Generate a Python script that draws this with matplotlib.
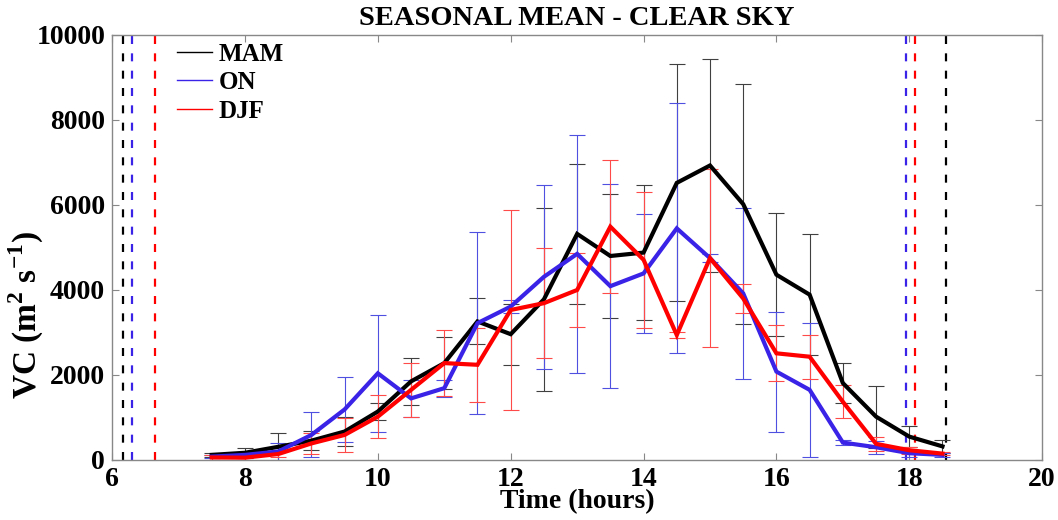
import matplotlib
matplotlib.use("Agg")
import matplotlib.pyplot as plt
from matplotlib.lines import Line2D

plt.rcParams['font.family'] = ['Liberation Serif', 'DejaVu Serif']
plt.rcParams['font.weight'] = 'bold'
plt.rcParams['mathtext.fontset'] = 'custom'
plt.rcParams['mathtext.rm'] = 'Liberation Serif:bold'
plt.rcParams['mathtext.bf'] = 'Liberation Serif:bold'

# half-hourly time steps
hours = [7.5, 8.0, 8.5, 9.0, 9.5, 10.0, 10.5, 11.0, 11.5, 12.0, 12.5, 13.0,
         13.5, 14.0, 14.5, 15.0, 15.5, 16.0, 16.5, 17.0, 17.5, 18.0, 18.5]

# seasonal mean ventilation coefficient and its spread
mam_mean = [120, 170, 310, 455, 670, 1140, 1850, 2280, 3260, 2960, 3780, 5320,
            4800, 4880, 6520, 6930, 6020, 4360, 3890, 1810, 1020, 550, 320]
mam_std = [50, 120, 330, 230, 330, 200, 550, 620, 540, 720, 2150, 1640,
           1450, 1580, 2790, 2500, 2820, 1440, 1430, 470, 730, 240, 160]

on_mean = [80, 120, 200, 590, 1190, 2040, 1450, 1690, 3220, 3610, 4310, 4850,
           4090, 4390, 5450, 4750, 3920, 2080, 1650, 410, 300, 160, 120]
on_std = [30, 60, 190, 530, 770, 1370, 430, 200, 2140, 150, 2170, 2800,
          2400, 1400, 2940, 100, 2020, 1410, 1570, 60, 150, 80, 40]

djf_mean = [60, 55, 140, 390, 590, 1020, 1650, 2280, 2240, 3530, 3690, 4000,
            5490, 4710, 2940, 4750, 3800, 2510, 2430, 1370, 380, 230, 150]
djf_std = [60, 60, 80, 240, 400, 500, 630, 780, 870, 2350, 1300, 880,
           1570, 1600, 80, 2100, 330, 660, 520, 390, 160, 80, 40]

# sunrise / sunset times per season
sunrise = {'MAM': 6.17, 'ON': 6.30, 'DJF': 6.65}
sunset = {'MAM': 18.55, 'ON': 17.95, 'DJF': 18.08}

line_colors = {'MAM': 'black', 'ON': '#3a22e6', 'DJF': '#ff0000'}
bar_colors = {'MAM': '#404040', 'ON': '#5050e0', 'DJF': '#ff4a4a'}

fig = plt.figure(figsize=(10.58, 5.2), dpi=100)
ax = fig.add_axes([0.106, 0.1154, 0.879, 0.8173])

series = [('MAM', mam_mean, mam_std), ('ON', on_mean, on_std), ('DJF', djf_mean, djf_std)]

# thin error bars underneath, thick mean curves on top
for name, mean, std in series:
    ax.errorbar(hours, mean, yerr=std, fmt='none', ecolor=bar_colors[name],
                elinewidth=0.8, capsize=6, capthick=0.8, zorder=2)

for name, mean, std in series:
    ax.plot(hours, mean, color=line_colors[name], lw=3.0, zorder=3,
            solid_joinstyle='miter')

for name in ['MAM', 'ON', 'DJF']:
    for t in (sunrise[name], sunset[name]):
        ax.axvline(t, color=line_colors[name], lw=1.6,
                   linestyle=(0, (3.6, 4.2)), zorder=1)

ax.set_xlim(6, 20)
ax.set_ylim(0, 10000)
ax.set_xticks([6, 8, 10, 12, 14, 16, 18, 20])
ax.set_yticks([0, 2000, 4000, 6000, 8000, 10000])
ax.tick_params(direction='in', top=True, right=True, length=5, width=0.8,
               color='#888888', labelsize=20, pad=5)
for lab in ax.get_xticklabels() + ax.get_yticklabels():
    lab.set_fontweight('bold')
for sp in ax.spines.values():
    sp.set_color('#888888')
    sp.set_linewidth(1.0)

ax.set_title('SEASONAL MEAN - CLEAR SKY', fontsize=20.5, fontweight='bold', pad=7)
ax.set_xlabel('Time (hours)', fontsize=20, fontweight='bold', labelpad=-2)
ax.set_ylabel(r'VC (m$^{2}$ s$^{-1}$)', fontsize=24, fontweight='bold')
ax.yaxis.set_label_coords(-0.071, 0.34)

handles = [Line2D([], [], color=line_colors[n], lw=1.0) for n in ['MAM', 'ON', 'DJF']]
leg = ax.legend(handles, ['MAM', 'ON', 'DJF'], loc='upper left',
                bbox_to_anchor=(0.046, 1.035), frameon=False, fontsize=18,
                handlelength=1.4, handletextpad=0.25, labelspacing=0.22)
for txt in leg.get_texts():
    txt.set_fontweight('bold')

fig.savefig('out.png', dpi=100)
